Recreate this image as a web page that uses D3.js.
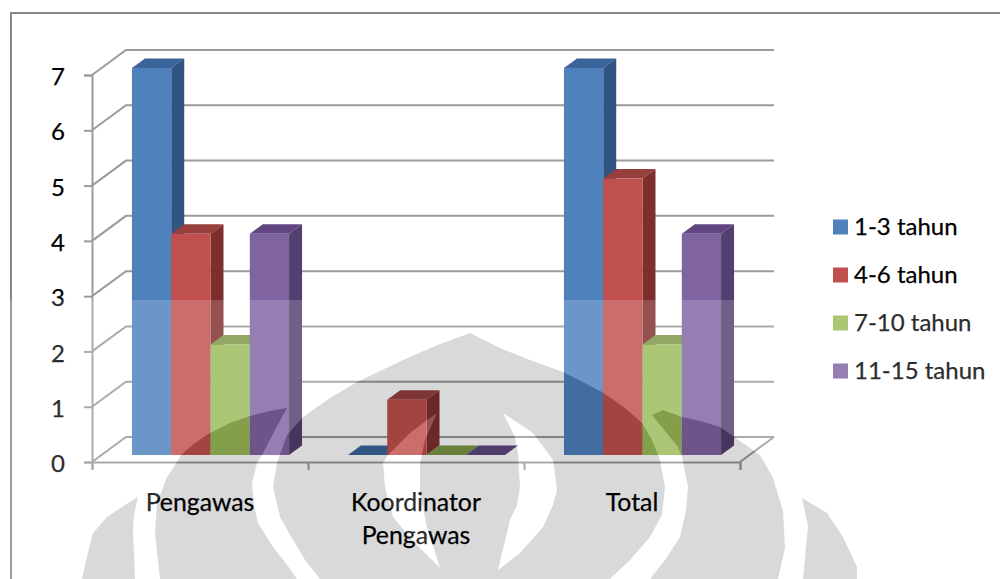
<!DOCTYPE html>
<html>
<head>
<meta charset="utf-8">
<script src="https://cdn.jsdelivr.net/npm/d3@7/dist/d3.min.js"></script>
<style>
html,body{margin:0;padding:0;background:#fff;overflow:hidden}
text{font-family:Lato,"Open Sans",sans-serif;fill:#000;stroke:#000;stroke-width:0.25px}
</style>
</head>
<body>
<svg id="chart" width="1000" height="579"></svg>
<script>
// Chart data
const categories = ["Pengawas", "Koordinator Pengawas", "Total"];
const seriesNames = ["1-3 tahun", "4-6 tahun", "7-10 tahun", "11-15 tahun"];
const values1to3 = [7, 0, 7];
const values4to6 = [4, 1, 5];
const values7to10 = [2, 0, 2];
const values11to15 = [4, 0, 4];
const seriesValues = [values1to3, values4to6, values7to10, values11to15];
const yTicks = [0, 1, 2, 3, 4, 5, 6, 7];

// Face colours per series
const frontColors = ["#4f81bd", "#c0504d", "#9bbb59", "#8064a2"];
const topColors = ["#3b659a", "#963f3c", "#7a9646", "#5f4680"];
const sideColors = ["#315480", "#7d2f2d", "#64803a", "#543f70"];

// Page watermark outlines, drawn above the plot
const wmLeft = [[82,579],[88,552],[93,533],[107,517],[122,507],[138,497],[134,515],[133,530],[135,579]];
const wmInner = [[160,579],[155,533],[157,503],[167,477],[177,462],[181,455],[195,443],[210,433],[230,423],[250,416],[270,411],[287,408],[275,430],[262,455],[257,463],[252,483],[254,505],[258,523],[273,547],[285,562],[297,579]];
const wmCenter = [[320,579],[305,560],[293,540],[280,517],[273,487],[277,463],[287,435],[303,417],[330,398],[357,382],[380,371],[403,360],[435,346],[470,333],[500,348],[530,360],[563,372],[602,392],[625,408],[642,423],[652,440],[660,460],[665,487],[662,515],[650,537],[630,560],[610,579]];
const wmSlit = [[437,413],[427,420],[410,433],[388,455],[383,463],[385,487],[393,517],[415,543],[440,568],[427,527],[420,493],[420,463],[425,440]];
const wmCrescent = [[503,413],[515,437],[518,453],[520,487],[517,505],[510,520],[498,570],[520,553],[543,527],[553,505],[557,490],[553,460],[533,433]];
const wmRight = [[650,579],[665,560],[680,537],[686,510],[688,487],[682,457],[678,447],[652,415],[663,410],[682,417],[700,421],[720,427],[733,436],[740,441],[760,455],[773,478],[783,511],[785,548],[778,579]];
const wmFar = [[803,579],[808,526],[802,498],[827,513],[843,537],[857,567],[857,579]];

const svg = d3.select("#chart");

// Plot geometry: front plane of the floor, wall depth and bar depth
const plot = {left: 92, right: 740, floorY: 462, top7: 75};
const wall = {dx: 34, dy: -25};
const barShift = {dx: 10.5, dy: -7};
const barDepth = {dx: 13, dy: -9.5};

const y = d3.scaleLinear().domain([0, 7]).range([plot.floorY, plot.top7]);
const x0 = d3.scaleBand().domain(categories).range([plot.left, plot.right]);
const gapRatio = 1.5;
const barWidth = x0.bandwidth() / (seriesNames.length + gapRatio);
const x1 = d3.scaleBand().domain(seriesNames)
  .range([barWidth * gapRatio / 2, barWidth * gapRatio / 2 + barWidth * seriesNames.length]);
const boundaries = d3.scaleLinear().domain([0, categories.length]).range([plot.left, plot.right]);

const gridColor = "#9b9b9b";
const chart = svg.append("g");

// Outer chart frame (top and left edges visible)
chart.append("path")
  .attr("d", "M1000,13H11V579")
  .attr("fill", "none").attr("stroke", "#878787").attr("stroke-width", 2);

// Back wall gridlines and side-wall diagonals
const walls = chart.append("g").attr("fill", "none").attr("stroke", gridColor).attr("stroke-width", 2);
walls.selectAll("path.wall").data(yTicks).join("path")
  .attr("class", "wall")
  .attr("d", t => d3.line()([
    [plot.left, y(t)],
    [plot.left + wall.dx, y(t) + wall.dy],
    [plot.right + wall.dx, y(t) + wall.dy]
  ]));
// Floor right edge
walls.append("path").attr("d", d3.line()([
  [plot.right, y(0)],
  [plot.right + wall.dx, y(0) + wall.dy]
]));

// Axes
const yAxis = chart.append("g").attr("transform", `translate(${plot.left},0)`)
  .call(d3.axisLeft(y).tickValues(yTicks).tickSize(8).tickPadding(19).tickFormat(d3.format("d")));
const xAxis = chart.append("g").attr("transform", `translate(0,${plot.floorY})`)
  .call(d3.axisBottom(boundaries).ticks(categories.length).tickSize(8).tickFormat(""));
[yAxis, xAxis].forEach(a => {
  a.selectAll("path.domain").attr("stroke", gridColor).attr("stroke-width", 2);
  a.selectAll("line").attr("stroke", gridColor).attr("stroke-width", 2);
});
yAxis.selectAll("text").attr("font-size", 24).attr("font-family", "Lato").attr("fill", "#000").attr("dy", "0.4em");

// Bars, back to front in series order
const quad = d3.line();
const bars = chart.append("g");
categories.forEach((cat, ci) => {
  seriesNames.forEach((name, si) => {
    const v = seriesValues[si][ci];
    const xl = x0(cat) + x1(name) + barShift.dx;
    const xr = xl + barWidth;
    const yb = y(0) + barShift.dy;
    const yt = y(v) + barShift.dy;
    const g = bars.append("g");
    g.append("path").attr("fill", topColors[si]).attr("d", quad([
      [xl, yt], [xl + barDepth.dx, yt + barDepth.dy],
      [xr + barDepth.dx, yt + barDepth.dy], [xr, yt]
    ]) + "Z");
    if (v > 0) {
      g.append("path").attr("fill", sideColors[si]).attr("d", quad([
        [xr, yt], [xr + barDepth.dx, yt + barDepth.dy],
        [xr + barDepth.dx, yb + barDepth.dy], [xr, yb]
      ]) + "Z");
      g.append("rect").attr("x", xl).attr("y", yt)
        .attr("width", barWidth).attr("height", yb - yt)
        .attr("fill", frontColors[si]);
    }
  });
});

// Category labels, wrapped on the space
const labelFirstY = 511, labelLineH = 33;
const labels = chart.append("g").attr("text-anchor", "middle").attr("font-size", 24.8);
categories.forEach(cat => {
  const t = labels.append("text").attr("x", x0(cat) + x0.bandwidth() / 2);
  cat.split(" ").forEach((w, i) => {
    t.append("tspan").attr("x", x0(cat) + x0.bandwidth() / 2).attr("y", labelFirstY + i * labelLineH).text(w);
  });
});

// Legend
const legendY = d3.scalePoint().domain(seriesNames).range([227, 371]);
const legend = chart.append("g");
seriesNames.forEach((name, i) => {
  legend.append("rect").attr("x", 833).attr("y", legendY(name) - 7.5)
    .attr("width", 15).attr("height", 15).attr("fill", frontColors[i]);
  legend.append("text").attr("x", 854).attr("y", legendY(name) + 8).attr("font-size", 24).text(name);
});

// Watermark layer: whitened band below y=300, with grey shapes knocked out of it
const poly = pts => d3.line()(pts) + "Z";
const wmPath = [wmLeft, wmInner, wmCenter, wmSlit, wmCrescent, wmRight, wmFar].map(poly).join("");
const defs = svg.append("defs");
const mask = defs.append("mask").attr("id", "wm-mask").attr("maskUnits", "userSpaceOnUse")
  .attr("x", 0).attr("y", 0).attr("width", 1000).attr("height", 579);
mask.append("rect").attr("width", 1000).attr("height", 579).attr("fill", "#fff");
mask.append("path").attr("d", wmPath).attr("fill", "#000").attr("fill-rule", "evenodd");

svg.append("rect").attr("x", 0).attr("y", 300).attr("width", 1000).attr("height", 279)
  .attr("fill", "#fff").attr("fill-opacity", 0.17).attr("mask", "url(#wm-mask)");
svg.append("path").attr("d", wmPath).attr("fill", "#000").attr("fill-opacity", 0.15).attr("fill-rule", "evenodd");
</script>
</body>
</html>
